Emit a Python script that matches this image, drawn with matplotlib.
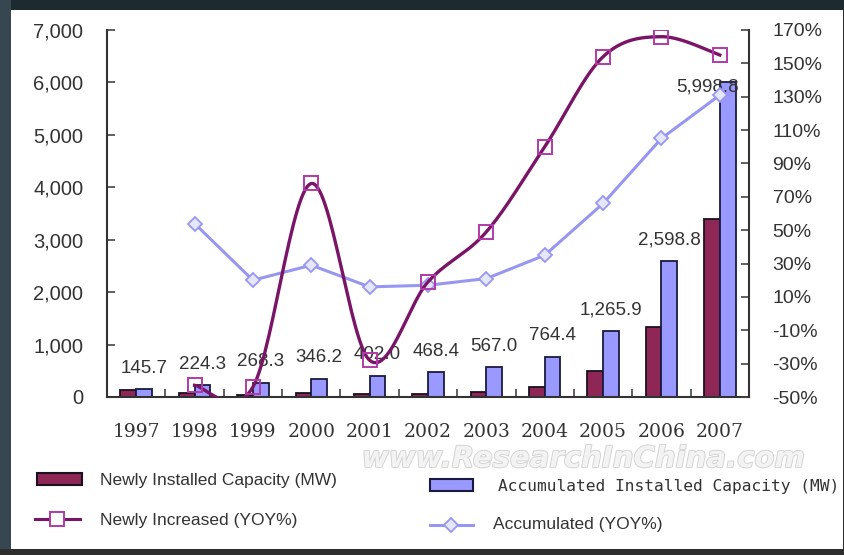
import numpy as np
import matplotlib
matplotlib.use("Agg")
from matplotlib import pyplot as plt
from matplotlib.patches import Rectangle
from matplotlib.lines import Line2D
import matplotlib.patheffects as pe

# Chart data
years = ['1997', '1998', '1999', '2000', '2001', '2002', '2003', '2004', '2005', '2006', '2007']
new_cap = [138.0, 78.6, 44.0, 77.9, 55.8, 66.4, 98.6, 197.4, 501.5, 1332.9, 3400.0]
acc_cap = [145.7, 224.3, 268.3, 346.2, 402.0, 468.4, 567.0, 764.4, 1265.9, 2598.8, 5998.8]
new_yoy = [np.nan, -43, -44, 78, -28, 19, 49, 100, 154, 166, 155]
acc_yoy = [np.nan, 54, 20, 29, 16, 17, 21, 35, 66, 105, 131]
left_ticks = [0, 1000, 2000, 3000, 4000, 5000, 6000, 7000]
right_ticks = [-50, -30, -10, 10, 30, 50, 70, 90, 110, 130, 150, 170]

W, H = 845, 555
DARK = '#8E2656'
BLUE = '#9999FF'
PURPLE = '#7A1466'
LBLUE = '#9797F2'
TXT = '#333333'


# Excel-like smoothed line (bezier with control points from neighbours)
def smooth(xs, ys, n=30):
    xs = np.asarray(xs, float)
    ys = np.asarray(ys, float)
    pts = np.column_stack([xs, ys])
    out = []
    for i in range(len(pts) - 1):
        p0 = pts[i - 1] if i > 0 else pts[i]
        p1 = pts[i]
        p2 = pts[i + 1]
        p3 = pts[i + 2] if i + 2 < len(pts) else pts[i + 1]
        c1 = p1 + (p2 - p0) / 6.0
        c2 = p2 - (p3 - p1) / 6.0
        t = np.linspace(0, 1, n)[:, None]
        seg = ((1 - t) ** 3) * p1 + 3 * ((1 - t) ** 2) * t * c1 + 3 * (1 - t) * t ** 2 * c2 + t ** 3 * p2
        out.append(seg if i == 0 else seg[1:])
    seg = np.vstack(out)
    return seg[:, 0], seg[:, 1]


fig = plt.figure(figsize=(W / 100, H / 100), dpi=100)
fig.patch.set_facecolor('#2e2e2e')

def fr(x0, y0, x1, y1):
    # pixel box -> figure fraction rectangle
    return (x0 / W, 1 - y1 / H), (x1 - x0) / W, (y1 - y0) / H

for box, col in [((0, 0, W, 10), '#1d2a30'), ((0, 0, 11, 549), '#37474f'),
                 ((11, 10, 843, 549), 'white')]:
    xy, w, h = fr(*box)
    fig.patches.append(Rectangle(xy, w, h, transform=fig.transFigure, facecolor=col,
                                 edgecolor='none', zorder=-5))

ax = fig.add_axes([107 / W, 1 - 397 / H, (749 - 107) / W, (397 - 30) / H])
ax.set_facecolor('none')
x = np.arange(len(years))
bw = 0.27
ax.bar(x - bw / 2, new_cap, width=bw, color=DARK, edgecolor='#1a1020', linewidth=1.3, zorder=2)
bars = ax.bar(x + bw / 2, acc_cap, width=bw, color=BLUE, edgecolor='#1a1a40', linewidth=1.3, zorder=2)

for i, (b, v) in enumerate(zip(bars, acc_cap)):
    cx = b.get_x() + b.get_width() / 2
    if i == len(acc_cap) - 1:
        off = (-20, -5)
    else:
        off = (0, 21)
    ax.annotate(f'{v:,.1f}', (cx, v), xytext=off, textcoords='offset pixels',
                ha='center', va='center', fontsize=13.5, color=TXT,
                family='Liberation Sans', zorder=3)

ax.set_xlim(-0.5, len(years) - 0.5)
ax.set_ylim(0, 7000)
ax.set_yticks(left_ticks)
ax.set_yticklabels([f'{t:,}' for t in left_ticks], family='Liberation Sans', fontsize=14.5, color=TXT)
ax.set_xticks(x)
ax.set_xticklabels(years, family='DejaVu Serif', fontsize=13.5, color=TXT)
ax.set_xticks(np.arange(len(years) + 1) - 0.5, minor=True)
ax.tick_params(axis='x', which='major', length=0, pad=19)
ax.tick_params(axis='x', which='minor', direction='in', length=6, width=1.2, color='#444')
ax.tick_params(axis='y', direction='in', length=6, width=1.2, color='#444', pad=17)
for s in ['top', 'right']:
    ax.spines[s].set_visible(False)
for s in ['left', 'bottom']:
    ax.spines[s].set_color('#333')
    ax.spines[s].set_linewidth(1.5)

ax2 = ax.twinx()
ax2.set_ylim(-50, 170)
ax2.set_yticks(right_ticks)
ax2.set_yticklabels([f'{t}%' for t in right_ticks], family='Liberation Sans', fontsize=14, color=TXT)
ax2.tick_params(axis='y', direction='in', length=6, width=1.2, color='#444', pad=17)
for s in ['top', 'left', 'bottom']:
    ax2.spines[s].set_visible(False)
ax2.spines['right'].set_color('#333')
ax2.spines['right'].set_linewidth(1.5)

# accumulated YOY (straight segments)
ax2.plot(x[1:], acc_yoy[1:], color=LBLUE, linewidth=2.2, marker='D', markersize=7,
         markerfacecolor='#e6e6ff', markeredgecolor=LBLUE, markeredgewidth=1.3, zorder=3)
# newly increased YOY (smoothed)
sx, sy = smooth(x[1:], new_yoy[1:])
ax2.plot(sx, sy, color=PURPLE, linewidth=2.4, zorder=4)
ax2.plot(x[1:], new_yoy[1:], linestyle='none', marker='s', markersize=10,
         markerfacecolor='none', markeredgecolor='#b03aa8', markeredgewidth=1.4, zorder=5)

# legend + watermark drawn in pixel space
lg = fig.add_axes([0, 0, 1, 1])
lg.set_xlim(0, W)
lg.set_ylim(H, 0)
lg.axis('off')
lg.patch.set_visible(False)

lg.text(583, 459, 'www.ResearchInChina.com', fontsize=21, style='italic', weight='bold',
        color='#f3f3f3', ha='center', va='center', family='DejaVu Sans',
        path_effects=[pe.withStroke(linewidth=1.3, foreground='#d2d2d2')])

lg.add_patch(Rectangle((37, 473), 45, 12, facecolor=DARK, edgecolor='#1a1020', linewidth=1.5))
lg.text(100, 480, 'Newly Installed Capacity (MW)', fontsize=12.5, color=TXT,
        family='Liberation Sans', va='center')
lg.add_line(Line2D([35, 80], [519, 519], color=PURPLE, linewidth=2.2))
lg.add_line(Line2D([57.5], [519], marker='s', markersize=10, markerfacecolor='white',
                   markeredgecolor='#b03aa8', markeredgewidth=1.4))
lg.text(100, 521, 'Newly Increased (YOY%)', fontsize=12.5, color=TXT,
        family='Liberation Sans', va='center')

lg.add_patch(Rectangle((430, 479), 43, 12, facecolor=BLUE, edgecolor='#1a1a40', linewidth=1.5))
lg.text(498, 486, 'Accumulated Installed Capacity (MW)', fontsize=11.7, color=TXT,
        family='DejaVu Sans Mono', va='center')
lg.add_line(Line2D([430, 473], [525, 525], color=LBLUE, linewidth=2.2))
lg.add_line(Line2D([451.5], [525], marker='D', markersize=7, markerfacecolor='#e6e6ff',
                   markeredgecolor=LBLUE, markeredgewidth=1.3))
lg.text(493, 524, 'Accumulated (YOY%)', fontsize=12.5, color=TXT,
        family='Liberation Sans', va='center')

fig.savefig('out.png', dpi=100, facecolor=fig.get_facecolor())
